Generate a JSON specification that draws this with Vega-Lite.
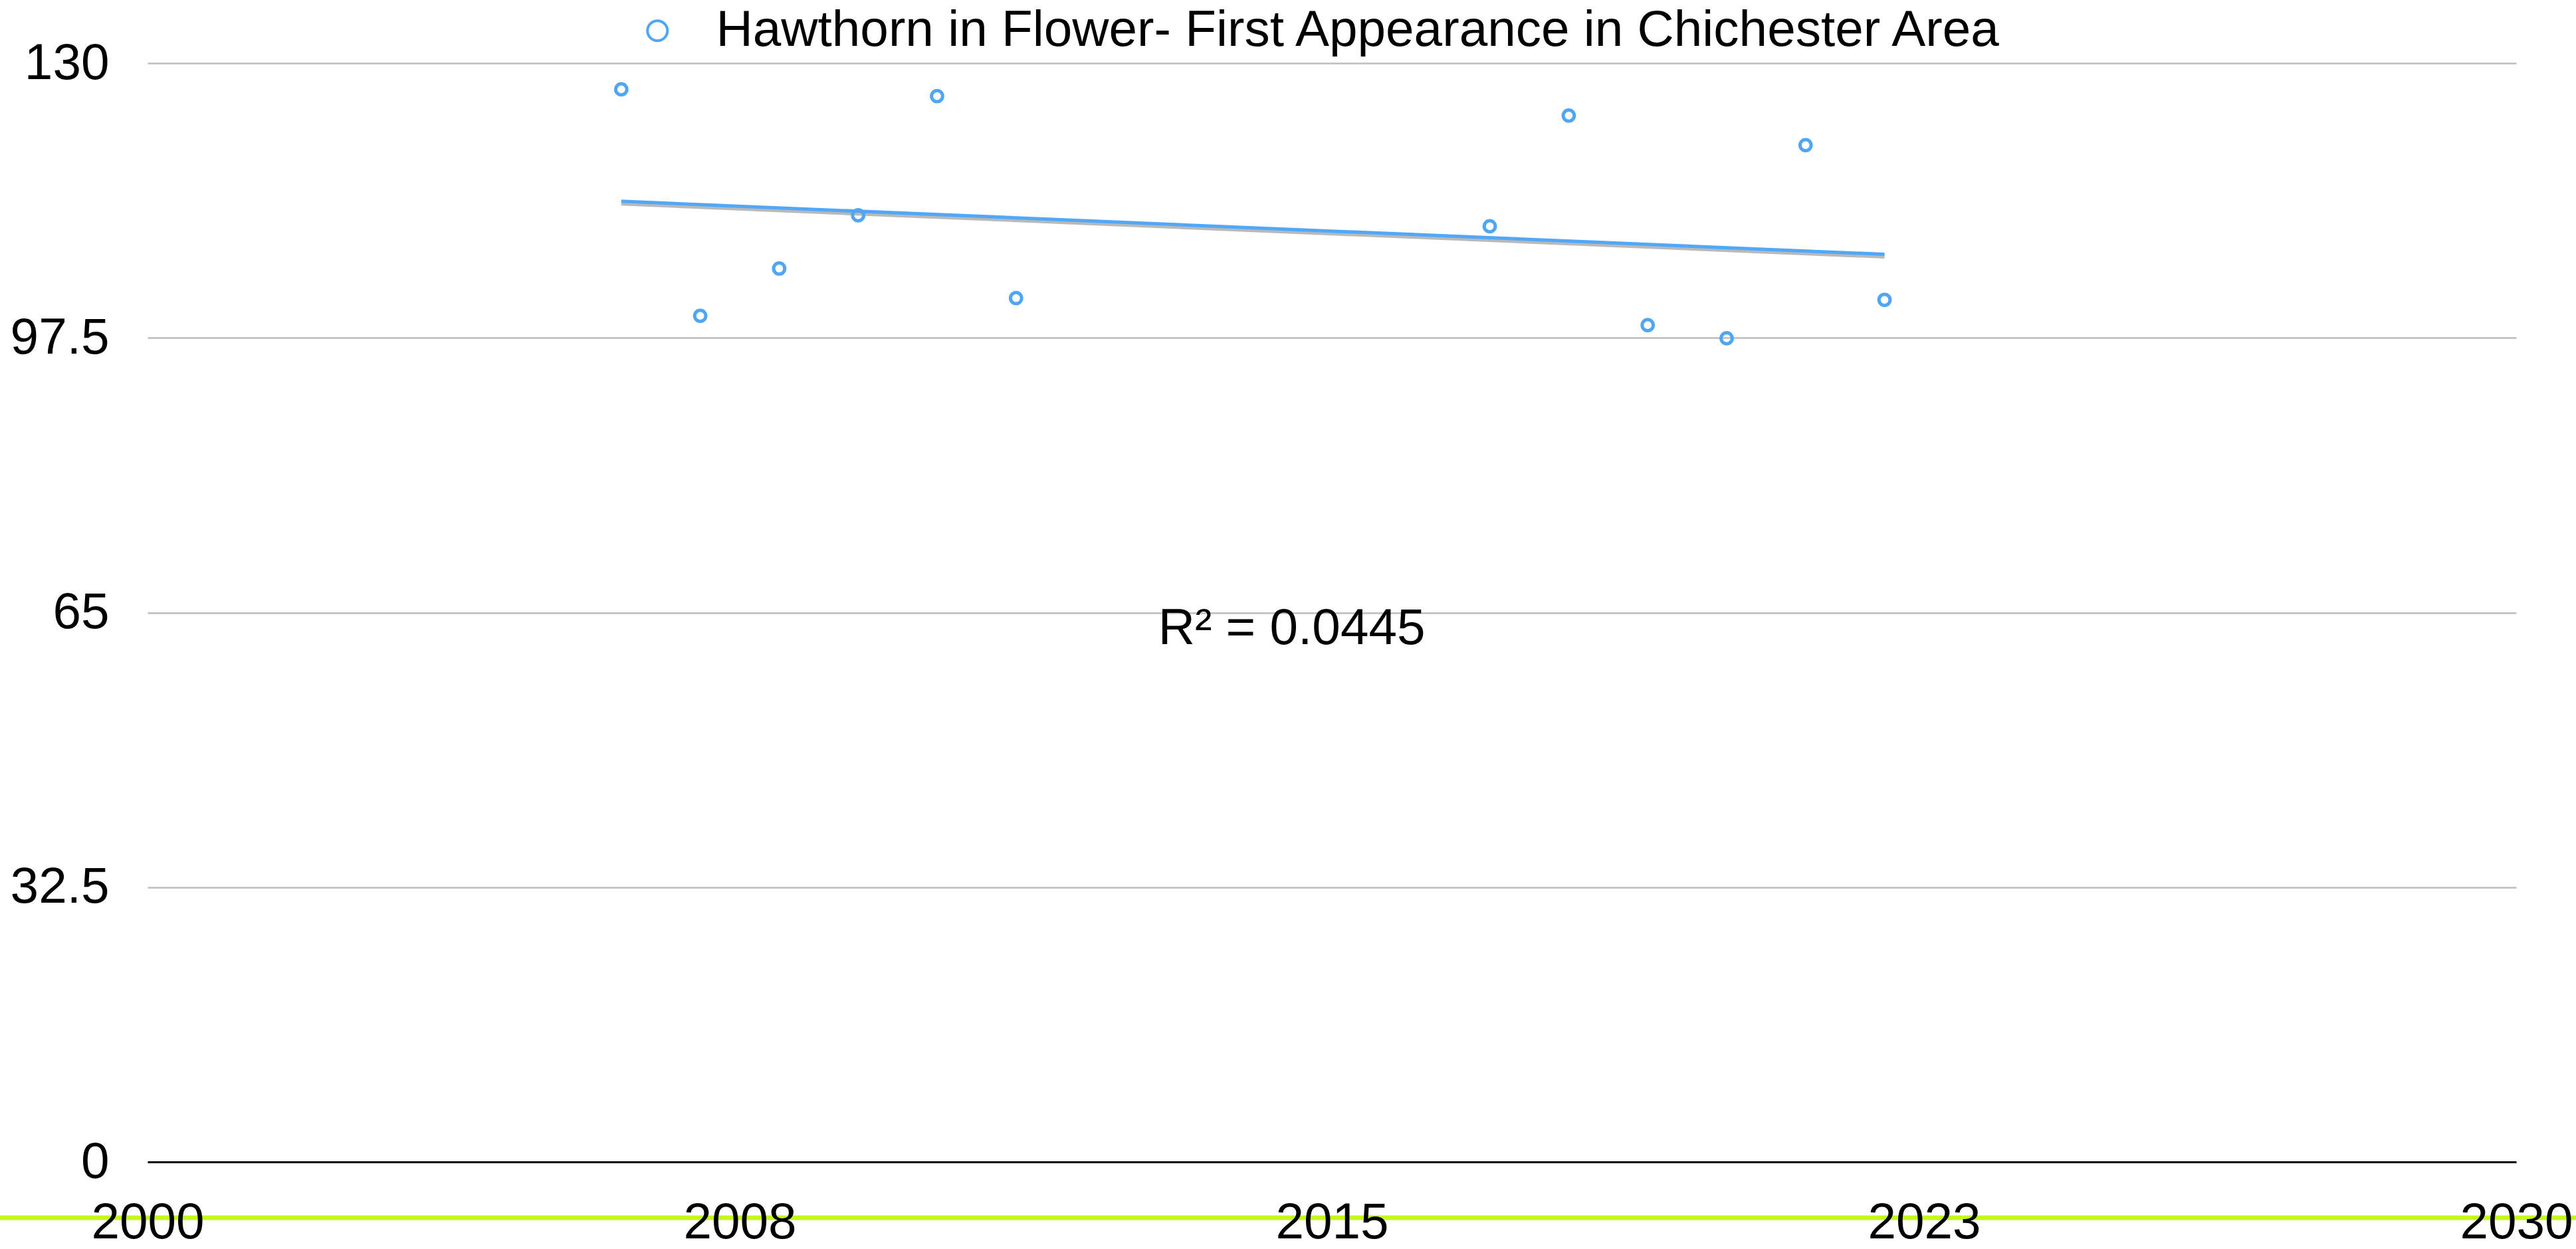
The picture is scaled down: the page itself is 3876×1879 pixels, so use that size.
{
  "$schema": "https://vega.github.io/schema/vega-lite/v6.json",
  "width": 3564,
  "height": 1653,
  "autosize": {"type": "none"},
  "padding": {"left": 222, "top": 95, "right": 90, "bottom": 131},
  "background": "white",
  "config": {
    "view": {"stroke": null},
    "font": "Liberation Sans",
    "axis": {"labelFont": "Liberation Sans", "labelColor": "#000000"},
    "legend": {"labelFont": "Liberation Sans"}
  },
  "data": {
    "values": [
      {"year": 2006, "value": 126.9},
      {"year": 2007, "value": 100.1},
      {"year": 2008, "value": 105.7},
      {"year": 2009, "value": 112.0},
      {"year": 2010, "value": 126.1},
      {"year": 2011, "value": 102.2},
      {"year": 2017, "value": 110.7},
      {"year": 2018, "value": 123.8},
      {"year": 2019, "value": 99.0},
      {"year": 2020, "value": 97.45},
      {"year": 2021, "value": 120.3},
      {"year": 2022, "value": 102.0}
    ]
  },
  "layer": [
    {
      "data": {"values": [{"k": 1}]},
      "mark": {"type": "rule", "color": "#c4f81c", "strokeWidth": 7, "clip": false},
      "encoding": {
        "x": {"datum": 1990, "type": "quantitative"},
        "x2": {"datum": 2040},
        "y": {"datum": -6.6, "type": "quantitative"}
      }
    },
    {
      "transform": [{"regression": "value", "on": "year"}],
      "mark": {"type": "line", "color": "#a8a8a8", "strokeWidth": 5, "yOffset": 4, "opacity": 0.8},
      "encoding": {
        "x": {"field": "year", "type": "quantitative"},
        "y": {"field": "value", "type": "quantitative"}
      }
    },
    {
      "transform": [{"regression": "value", "on": "year"}],
      "mark": {"type": "line", "color": "#52a8f8", "strokeWidth": 5},
      "encoding": {
        "x": {"field": "year", "type": "quantitative"},
        "y": {"field": "value", "type": "quantitative"}
      }
    },
    {
      "mark": {"type": "point", "filled": false, "strokeWidth": 5, "size": 280, "opacity": 1},
      "encoding": {
        "x": {
          "field": "year",
          "type": "quantitative",
          "scale": {"domain": [2000, 2030], "nice": false, "zero": false},
          "axis": {
            "title": null,
            "values": [2000, 2007.5, 2015, 2022.5, 2030],
            "format": ".0f",
            "grid": false,
            "ticks": false,
            "domain": true,
            "domainColor": "#000000",
            "domainWidth": 3,
            "labelFontSize": 76.5,
            "labelPadding": 54,
            "labelFlush": false,
            "labelOverlap": false,
            "zindex": 1
          }
        },
        "y": {
          "field": "value",
          "type": "quantitative",
          "scale": {"domain": [0, 130], "nice": false, "zero": true},
          "axis": {
            "title": null,
            "values": [0, 32.5, 65, 97.5, 130],
            "format": ".1~f",
            "grid": true,
            "gridColor": "#bdbdbd",
            "gridWidth": 2.5,
            "ticks": false,
            "domain": false,
            "labelFontSize": 76.5,
            "labelPadding": 58
          }
        },
        "color": {
          "datum": "Hawthorn in Flower- First Appearance in Chichester Area",
          "type": "nominal",
          "scale": {"range": ["#4fa6f5"]},
          "legend": {
            "title": null,
            "orient": "none",
            "legendX": 729,
            "legendY": -87,
            "padding": 0,
            "labelFontSize": 76.5,
            "labelColor": "#000000",
            "labelOffset": 50,
            "symbolSize": 900,
            "symbolStrokeWidth": 4,
            "symbolType": "circle",
            "labelLimit": 4000
          }
        }
      }
    },
    {
      "data": {"values": [{"k": 1}]},
      "mark": {"type": "text", "text": "R² = 0.0445", "fontSize": 76.5, "align": "left", "baseline": "alphabetic", "color": "#000000", "font": "Liberation Sans"},
      "encoding": {
        "x": {"datum": 2012.8, "type": "quantitative"},
        "y": {"datum": 61.3, "type": "quantitative"}
      }
    }
  ]
}
